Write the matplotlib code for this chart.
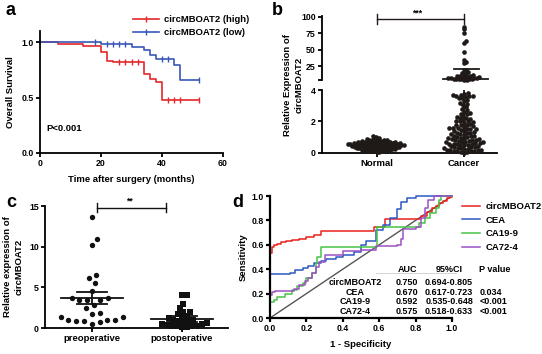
import numpy as np
import matplotlib
matplotlib.use("Agg")
import matplotlib.pyplot as plt
from matplotlib.lines import Line2D

plt.rcParams["font.family"] = ["Liberation Sans", "DejaVu Sans"]
plt.rcParams["font.weight"] = "bold"
plt.rcParams["axes.labelweight"] = "bold"
plt.rcParams["font.size"] = 6.3

# ---- panel a: Kaplan-Meier ----
km_high_t = [0, 6, 14, 20, 22, 24, 34, 36, 38, 40, 52]
km_high_s = [1.0, 0.979, 0.964, 0.913, 0.832, 0.820, 0.713, 0.665, 0.641, 0.479, 0.479]
km_high_cens = [26, 28, 30, 32, 42, 44, 46, 52]
km_low_t = [0, 20, 30, 34, 36, 38, 44, 46, 52]
km_low_s = [1.0, 0.979, 0.955, 0.928, 0.883, 0.847, 0.793, 0.659, 0.659]
km_low_cens = [18, 22, 24, 26, 28, 40, 42, 52]

# ---- panel b: expression, normal vs cancer ----
normal_vals = [0.05, 0.08, 0.1, 0.12, 0.12, 0.15, 0.15, 0.18, 0.18, 0.2, 0.2, 0.22, 0.22,
               0.24, 0.25, 0.25, 0.27, 0.28, 0.3, 0.3, 0.3, 0.32, 0.33, 0.34, 0.35, 0.35,
               0.36, 0.38, 0.38, 0.4, 0.4, 0.4, 0.41, 0.42, 0.43, 0.44, 0.45, 0.45, 0.46,
               0.47, 0.48, 0.48, 0.5, 0.5, 0.5, 0.51, 0.52, 0.53, 0.54, 0.55, 0.55, 0.56,
               0.57, 0.58, 0.58, 0.6, 0.6, 0.6, 0.61, 0.62, 0.63, 0.64, 0.65, 0.65, 0.66,
               0.67, 0.68, 0.7, 0.7, 0.71, 0.72, 0.73, 0.75, 0.75, 0.76, 0.78, 0.8, 0.8,
               0.82, 0.85, 0.88, 0.9, 0.95, 1.0, 1.05]
cancer_low_vals = [3.8, 3.75, 3.7, 3.7, 3.65, 3.6, 3.6, 3.55, 3.5, 3.5,
                   3.35, 3.3, 3.2, 3.1, 3.05, 2.9, 2.8, 2.7, 2.6, 2.55, 2.5, 2.45,
                   2.35, 2.3, 2.25, 2.2, 2.15, 2.1, 2.05, 2.0, 2.0,
                   1.95, 1.9, 1.85, 1.8, 1.8, 1.75, 1.7, 1.65, 1.6, 1.6, 1.6,
                   1.55, 1.5, 1.5, 1.45, 1.4, 1.4, 1.35, 1.3, 1.3, 1.25, 1.2, 1.2,
                   1.15, 1.1, 1.1, 1.05, 1.0, 1.0, 0.98, 0.95, 0.9, 0.9, 0.88, 0.85, 0.82, 0.8,
                   0.78, 0.75, 0.72, 0.7, 0.7, 0.68, 0.65, 0.62, 0.6, 0.6, 0.58, 0.55, 0.52,
                   0.5, 0.48, 0.45, 0.42, 0.4,
                   0.38, 0.35, 0.32, 0.3, 0.3, 0.28, 0.25, 0.22, 0.2, 0.2, 0.18, 0.15,
                   0.12, 0.1, 0.1, 0.08, 0.05, 0.03]
cancer_high_vals = [4.2, 4.5, 4.8, 5.0, 5.2, 5.5, 5.8, 6.0, 6.3, 6.6, 7.0, 7.4, 7.8, 8.2,
                    8.6, 9.0, 9.5, 10, 10.5, 11, 12, 13, 14, 15.5, 17, 19,
                    30, 32, 34, 47, 61, 63, 75, 81, 85]
cancer_mean, cancer_sd = 6.2, 15.3

# ---- panel c: pre vs post operative ----
pre_vals = [13.6, 11.0, 10.2, 6.5, 6.1, 5.5, 4.6, 3.7, 3.7, 3.4, 3.4, 3.4, 2.8, 2.4,
            1.9, 1.7, 1.4, 1.4, 1.0, 1.0, 1.0, 0.9, 0.8, 0.7, 0.5]
post_vals = [4.0, 4.0, 3.0, 2.5, 2.0, 2.0, 1.7, 1.5, 1.3, 1.2, 1.0, 1.0, 0.9, 0.8,
             0.7, 0.6, 0.5, 0.5, 0.4, 0.3, 0.3, 0.2, 0.2, 0.15, 0.1]
op_means = [3.7, 1.1]
op_sems = [0.72, 0.4]

# ---- panel d: ROC ----
roc_names = ["circMBOAT2", "CEA", "CA19-9", "CA72-4"]
roc_colors = ["#e8221c", "#2c57c4", "#46c246", "#9a52c2"]
roc_fpr = [
    [0, 0, 0, 0.01, 0.02, 0.04, 0.06, 0.09, 0.12, 0.16, 0.2, 0.24, 0.28, 0.57, 0.63,
     0.83, 0.86, 0.89, 0.91, 0.93, 0.95, 0.97, 0.99, 1.0],
    [0, 0, 0.11, 0.14, 0.18, 0.21, 0.24, 0.28, 0.31, 0.36, 0.40, 0.46, 0.5, 0.53, 0.58,
     0.62, 0.66, 0.70, 0.72, 0.75, 0.80, 1.0],
    [0, 0, 0.02, 0.04, 0.08, 0.12, 0.15, 0.18, 0.2, 0.23, 0.25, 0.26, 0.28, 0.59, 0.82,
     0.85, 0.88, 0.91, 0.93, 0.94, 1.0],
    [0, 0, 0.01, 0.03, 0.13, 0.16, 0.19, 0.21, 0.23, 0.25, 0.27, 0.3, 0.4, 0.5, 0.58,
     0.7, 0.72, 0.73, 0.8, 0.83, 0.85, 0.87, 0.9, 1.0],
]
roc_tpr = [
    [0, 0.47, 0.53, 0.58, 0.6, 0.61, 0.62, 0.63, 0.64, 0.65, 0.66, 0.68, 0.71, 0.75, 0.81,
     0.84, 0.87, 0.9, 0.92, 0.94, 0.96, 0.98, 0.99, 1.0],
    [0, 0.36, 0.37, 0.39, 0.41, 0.43, 0.45, 0.47, 0.48, 0.50, 0.52, 0.54, 0.6, 0.63, 0.72,
     0.76, 0.82, 0.89, 0.95, 0.98, 1.0, 1.0],
    [0, 0.13, 0.15, 0.17, 0.2, 0.23, 0.26, 0.29, 0.33, 0.37, 0.45, 0.5, 0.58, 0.75, 0.78,
     0.82, 0.86, 0.9, 0.97, 1.0, 1.0],
    [0, 0.19, 0.21, 0.22, 0.24, 0.27, 0.3, 0.33, 0.37, 0.42, 0.46, 0.52, 0.55, 0.56, 0.59,
     0.6, 0.65, 0.73, 0.75, 0.82, 0.9, 0.97, 1.0, 1.0],
]
roc_auc = ["0.750", "0.670", "0.592", "0.575"]
roc_ci = ["0.694-0.805", "0.617-0.723", "0.535-0.648", "0.518-0.633"]
roc_p = ["", "0.034", "<0.001", "<0.001"]

W, H = 542, 354
INK = "#1f1a17"


def box(left, top, right, bottom):
    return [left / W, 1 - bottom / H, (right - left) / W, (bottom - top) / H]


def style(ax, lw=1.3):
    for s in ["top", "right"]:
        ax.spines[s].set_visible(False)
    for s in ["left", "bottom"]:
        ax.spines[s].set_linewidth(lw)
    ax.tick_params(width=lw, length=3, labelsize=6.3, pad=1.5)


def swarm_x(ax, values, center, gap):
    # simple beeswarm: place each point as close to the centre as possible
    tr = ax.transData
    vals = np.asarray(values, float)
    pts = tr.transform(np.column_stack([np.full(len(vals), center), vals]))
    cx = pts[0, 0]
    placed = []
    offs = np.zeros(len(vals))
    for i in np.argsort(vals):
        y = pts[i, 1]
        near = [(px, py) for px, py in placed if abs(py - y) < gap]
        cands = [0.0]
        for px, py in near:
            dx = np.sqrt(gap ** 2 - (py - y) ** 2)
            cands += [px - cx + dx, px - cx - dx]
        cands.sort(key=abs)
        for c in cands:
            if all((cx + c - px) ** 2 + (y - py) ** 2 >= gap ** 2 - 1e-6 for px, py in near):
                break
        placed.append((cx + c, y))
        offs[i] = c
    back = tr.inverted().transform(np.column_stack([cx + offs, pts[:, 1]]))
    return back[:, 0]


fig = plt.figure(figsize=(W / 100, H / 100), dpi=100)

# ================= a =================
ax = fig.add_axes(box(40, 31, 223, 153))
style(ax)
red_km, blue_km = "#e3282b", "#3857b8"
ax.step(km_high_t, km_high_s, where="post", color=red_km, lw=1.2)
ax.step(km_low_t, km_low_s, where="post", color=blue_km, lw=1.2)
hs = [km_high_s[np.searchsorted(km_high_t, t, side="right") - 1] for t in km_high_cens]
ls = [km_low_s[np.searchsorted(km_low_t, t, side="right") - 1] for t in km_low_cens]
ax.plot(km_high_cens, hs, ls="none", marker="|", ms=4, mew=1.0, color=red_km)
ax.plot(km_low_cens, ls, ls="none", marker="|", ms=4, mew=1.0, color=blue_km)
ax.set_xlim(0, 60)
ax.set_ylim(0, 1.1)
ax.set_xticks([0, 20, 40, 60])
ax.set_yticks([0, 0.5, 1.0])
ax.set_yticklabels(["0.0", "0.5", "1.0"])
ax.set_xlabel("Time after surgery (months)", fontsize=6.8, labelpad=5)
ax.set_ylabel("Overall Survival", fontsize=6.8, labelpad=5)
ax.text(2, 0.2, "P<0.001", fontsize=6.8, fontweight="bold")
handles = [Line2D([], [], color=red_km, lw=1.2, marker="|", ms=4),
           Line2D([], [], color=blue_km, lw=1.2, marker="|", ms=4)]
ax.legend(handles, ["circMBOAT2 (high)", "circMBOAT2 (low)"], loc="upper left",
          bbox_to_anchor=(0.48, 1.17), frameon=False, fontsize=6.8, handlelength=2.8,
          labelspacing=0.45, borderpad=0, handletextpad=0.5)
fig.text(5 / W, 1 - 15 / H, "a", fontsize=13, fontweight="bold")

# ================= b =================
axl = fig.add_axes(box(322, 90, 497, 153))
axu = fig.add_axes(box(322, 16, 497, 80))
style(axl)
style(axu)
axu.spines["bottom"].set_visible(False)
axu.tick_params(axis="x", bottom=False, labelbottom=False)
for a in (axl, axu):
    a.set_xlim(-0.63, 1.38)
axl.set_ylim(0, 4)
axu.set_ylim(4, 101.5)
axl.set_yticks([0, 2, 4])
axu.set_yticks([4, 25, 50, 75, 100])
axu.set_yticklabels(["", "25", "50", "75", "100"])
axl.set_xticks([0, 1])
axl.set_xticklabels(["Normal", "Cancer"], fontsize=6.8)

xn = swarm_x(axl, normal_vals, 0, 2.6)
axl.scatter(xn, normal_vals, s=11, color=INK, lw=0, clip_on=False, zorder=3)
xc = swarm_x(axl, cancer_low_vals, 1, 3.5)
axl.scatter(xc, cancer_low_vals, s=11, color=INK, lw=0, clip_on=False, zorder=3)
xh = swarm_x(axu, cancer_high_vals, 1, 2.6)
axu.scatter(xh, cancer_high_vals, s=11, color=INK, lw=0, clip_on=False, zorder=3)

# mean +/- sd for cancer
axu.plot([1 - 0.24, 1 + 0.28], [cancer_mean] * 2, color=INK, lw=1.3, zorder=4)
axu.plot([1 - 0.11, 1 + 0.17], [cancer_mean + cancer_sd] * 2, color=INK, lw=1.3, zorder=4)
axu.plot([1, 1], [4, cancer_mean + cancer_sd], color=INK, lw=1.3, zorder=4, clip_on=False)
axl.plot([1, 1], [0, 4], color=INK, lw=1.3, zorder=4)

# significance
axu.plot([0, 1], [97, 97], color=INK, lw=1.0, clip_on=False)
axu.plot([0, 0], [89, 105], color=INK, lw=1.0, clip_on=False)
axu.plot([1, 1], [89, 105], color=INK, lw=1.0, clip_on=False)
axu.text(0.46, 99, "***", ha="center", va="bottom", fontsize=6.3, clip_on=False)
fig.text(293 / W, 1 - 85 / H, "Relative Expression of\ncircMBOAT2", rotation=90,
         ha="center", va="center", fontsize=6.8, fontweight="bold", linespacing=1.4)
fig.text(272 / W, 1 - 15 / H, "b", fontsize=13, fontweight="bold")

# ================= c =================
ax = fig.add_axes(box(45, 206, 228, 328))
style(ax)
ax.set_xlim(-0.52, 1.51)
ax.set_ylim(0, 15)
ax.set_yticks([0, 5, 10, 15])
ax.set_xticks([0, 1])
ax.set_xticklabels(["preoperative", "postoperative"], fontsize=6.8)
xp = swarm_x(ax, pre_vals, 0, 8.0)
ax.scatter(xp, pre_vals, s=15, color="#111111", lw=0, marker="o", clip_on=False, zorder=3)
xq = swarm_x(ax, post_vals, 1, 5.0)
ax.scatter(xq, post_vals, s=14, color="#111111", lw=0, marker="s", clip_on=False, zorder=3)
for i, (m, e) in enumerate(zip(op_means, op_sems)):
    ax.plot([i - 0.34, i + 0.34], [m, m], color="#111111", lw=1.3, zorder=4)
    ax.plot([i - 0.17, i + 0.17], [m + e] * 2, color="#111111", lw=1.3, zorder=4)
    ax.plot([i - 0.17, i + 0.17], [m - e] * 2, color="#111111", lw=1.3, zorder=4)
    ax.plot([i, i], [m - e, m + e], color="#111111", lw=1.3, zorder=4)
ax.plot([0.06, 0.82], [14.8, 14.8], color="#111111", lw=1.0, clip_on=False)
ax.plot([0.06, 0.06], [14.3, 15.4], color="#111111", lw=1.0, clip_on=False)
ax.plot([0.82, 0.82], [14.3, 15.4], color="#111111", lw=1.0, clip_on=False)
ax.text(0.42, 15.1, "**", ha="center", va="bottom", fontsize=6.3, clip_on=False)
ax.set_ylabel("Relative expression of\ncircMBOAT2", fontsize=6.8, labelpad=4, linespacing=1.4)
fig.text(6 / W, 1 - 207 / H, "c", fontsize=13, fontweight="bold")

# ================= d =================
ax = fig.add_axes(box(270, 196, 452, 318))
style(ax, lw=1.6)
ax.set_xlim(0, 1)
ax.set_ylim(0, 1)
ticks = [0, 0.2, 0.4, 0.6, 0.8, 1.0]
ax.set_xticks(ticks)
ax.set_yticks(ticks)
ax.set_xticklabels([f"{t:.1f}" for t in ticks])
ax.set_yticklabels([f"{t:.1f}" for t in ticks])
ax.plot([0, 1], [0, 1], color="#555555", lw=1.0)
for f, t, c, n in zip(roc_fpr, roc_tpr, roc_colors, roc_names):
    ax.plot(f, t, drawstyle="steps-post", color=c, lw=1.1, label=n, clip_on=False)
ax.legend(loc="upper left", bbox_to_anchor=(1.03, 0.99), frameon=False, fontsize=6.8,
          handlelength=1.9, labelspacing=0.5, borderpad=0, handletextpad=0.6)
ax.set_xlabel("1 - Specificity", fontsize=6.8, labelpad=5)
ax.set_ylabel("Sensitivity", fontsize=6.8, labelpad=3)

ax.plot([0.58, 1.02], [0.37, 0.37], color="#cccccc", lw=0.6, clip_on=False)
col_x = [0.467, 0.753, 0.984]
hy = 0.40
ax.text(col_x[1], hy, "AUC", ha="center", va="center", fontsize=6.5)
ax.text(col_x[2], hy, "95%CI", ha="center", va="center", fontsize=6.5)
ax.text(1.15, hy, "P value", ha="left", va="center", fontsize=6.5)
row_y = [0.295, 0.213, 0.139, 0.057]
for name, auc, ci, p, y in zip(roc_names, roc_auc, roc_ci, roc_p, row_y):
    ax.text(col_x[0], y, name, ha="center", va="center", fontsize=6.5)
    ax.text(col_x[1], y, auc, ha="center", va="center", fontsize=6.5)
    ax.text(col_x[2], y, ci, ha="center", va="center", fontsize=6.5)
    ax.text(1.15, y, p, ha="left", va="center", fontsize=6.5)
fig.text(232 / W, 1 - 207 / H, "d", fontsize=13, fontweight="bold")

fig.savefig("out.png", dpi=100)
